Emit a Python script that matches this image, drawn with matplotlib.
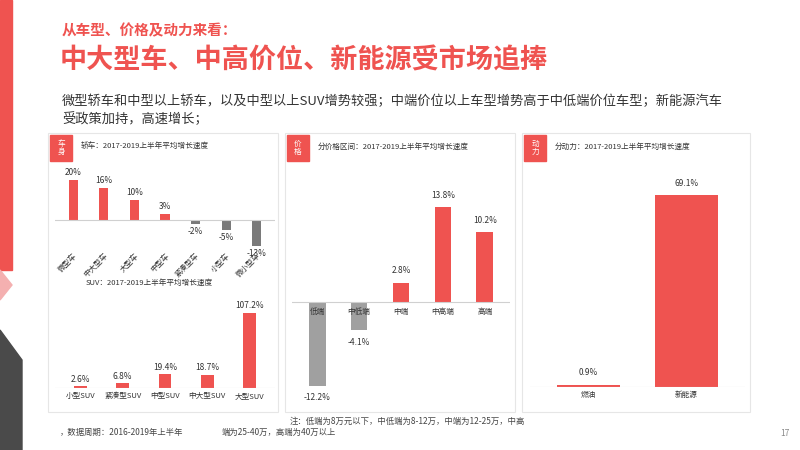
import matplotlib.pyplot as plt
import matplotlib.patches as mpatches

plt.rcParams["font.family"] = "Noto Sans CJK SC"

RED = "#ef5350"
GREY = "#a0a0a0"
DARK = "#7a7a7a"

sedan_cats = ["微型车", "中大型车", "大型车", "中型车", "紧凑型车", "小型车", "微小型车"]
sedan_vals = [20, 16, 10, 3, -2, -5, -13]
suv_cats = ["小型SUV", "紧凑型SUV", "中型SUV", "中大型SUV", "大型SUV"]
suv_vals = [2.6, 6.8, 19.4, 18.7, 107.2]
price_cats = ["低端", "中低端", "中端", "中高端", "高端"]
price_vals = [-12.2, -4.1, 2.8, 13.8, 10.2]
power_cats = ["燃油", "新能源"]
power_vals = [0.9, 69.1]

W, H = 800, 450
fig = plt.figure(figsize=(8, 4.5), dpi=100)
fig.patch.set_facecolor("white")


def px_axes(x0, y0, x1, y1, **kw):
    return fig.add_axes([x0 / W, 1 - y1 / H, (x1 - x0) / W, (y1 - y0) / H], **kw)


# background decoration
bg = px_axes(0, 0, W, H)
bg.set_xlim(0, W)
bg.set_ylim(H, 0)
bg.axis("off")
bg.add_patch(mpatches.Rectangle((0, 0), 12, 270, color=RED))
bg.add_patch(mpatches.Polygon([(0, 330), (22, 360), (22, 450), (0, 450)], color="#4a4a4a"))
bg.add_patch(mpatches.Polygon([(0, 270), (12, 285), (0, 300)], color="#f4b0b0"))
bg.text(62, 30, "从车型、价格及动力来看：", color=RED, fontsize=10.5, fontweight="bold", va="center")
bg.text(60, 60, "中大型车、中高价位、新能源受市场追捧", color=RED, fontsize=19.5, fontweight="bold", va="center")
bg.text(62, 101, "微型轿车和中型以上轿车，以及中型以上SUV增势较强；中端价位以上车型增势高于中低端价位车型；新能源汽车",
        color="#333333", fontsize=9.5, va="center")
bg.text(62, 119, "受政策加持，高速增长；", color="#333333", fontsize=9.5, va="center")
bg.text(60, 432, "，数据周期：2016-2019年上半年", color="#444444", fontsize=6, va="center")
bg.text(290, 421, "注：低端为8万元以下，中低端为8-12万，中端为12-25万，中高", color="#444444", fontsize=6, va="center")
bg.text(222, 432, "端为25-40万，高端为40万以上", color="#444444", fontsize=6, va="center")
bg.text(780, 434, "17", color="#888888", fontsize=6, va="center")

panels = [(48, 133, 278, 412, "车\n身", "轿车：2017-2019上半年平均增长速度"),
          (285, 133, 515, 412, "价\n格", "分价格区间：2017-2019上半年平均增长速度"),
          (522, 133, 750, 412, "动\n力", "分动力：2017-2019上半年平均增长速度")]
for x0, y0, x1, y1, tag, title in panels:
    bg.add_patch(mpatches.Rectangle((x0, y0), x1 - x0, y1 - y0, fill=False, ec="#e6e6e6", lw=0.8))
    bg.add_patch(mpatches.Rectangle((x0 + 2, y0 + 2), 22, 26, color=RED))
    bg.text(x0 + 13, y0 + 15, tag, color="white", fontsize=5.5, ha="center", va="center", linespacing=1.1)
    bg.text(x0 + 33, y0 + 14, title, color="#333333", fontsize=5.5, va="center")
bg.text(86, 283, "SUV：2017-2019上半年平均增长速度", color="#333333", fontsize=5.5, va="center")


def bar_chart(ax, cats, vals, lo, hi, fmt, rot=0, neg_color=GREY, width=0.35, fs=6):
    x = range(len(cats))
    colors = [RED if v >= 0 else neg_color for v in vals]
    ax.bar(x, vals, width=width, color=colors)
    ax.axhline(0, color="#d0d0d0", lw=0.8)
    ax.set_ylim(lo, hi)
    ax.set_xlim(-0.6, len(cats) - 0.4)
    span = hi - lo
    for i, v in enumerate(vals):
        off = span * 0.03
        ax.text(i, v + off if v >= 0 else v - off, fmt.format(v), ha="center",
                va="bottom" if v >= 0 else "top", fontsize=fs, color="#333333")
    ax.set_xticks(list(x))
    if rot:
        ax.set_xticklabels(cats, rotation=rot, ha="right", rotation_mode="anchor", fontsize=5.5)
    else:
        ax.set_xticklabels(cats, fontsize=5.5)
    ax.tick_params(length=0, pad=3, colors="#333333")
    ax.set_yticks([])
    for s in ax.spines.values():
        s.set_visible(False)
    ax.patch.set_alpha(0)


ax1 = px_axes(55, 160, 275, 250)
bar_chart(ax1, sedan_cats, sedan_vals, -15, 30, "{:.0f}%", rot=45, neg_color=DARK, width=0.3)
ax1.tick_params(axis="x", pad=1)

ax2 = px_axes(55, 300, 275, 388)
bar_chart(ax2, suv_cats, suv_vals, 0, 126, "{:.1f}%", width=0.3)

ax3 = px_axes(292, 150, 510, 395)
bar_chart(ax3, price_cats, price_vals, -13.5, 22.1, "{:.1f}%", width=0.4)
ax3.set_xticks([])
for i, c in enumerate(price_cats):
    ax3.text(i, -0.8, c, ha="center", va="top", fontsize=5.5, color="#333333")

ax4 = px_axes(530, 150, 745, 387)
bar_chart(ax4, power_cats, power_vals, 0, 85.5, "{:.1f}%", width=0.65)

fig.savefig("out.png", dpi=100, facecolor="white")
